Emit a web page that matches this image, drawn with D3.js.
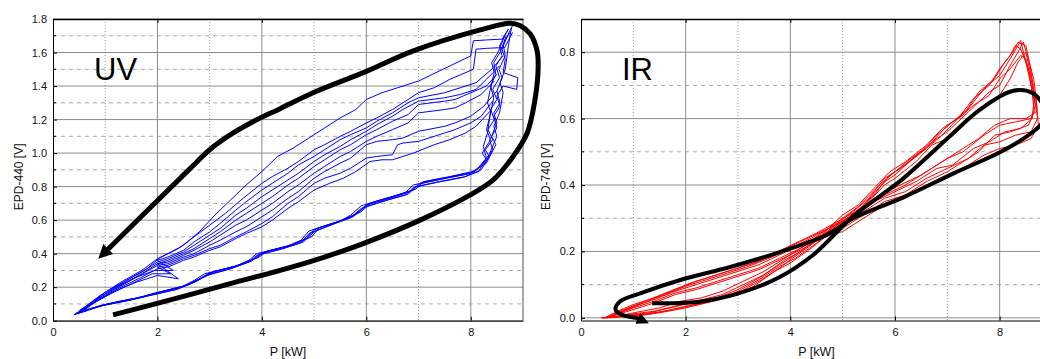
<!DOCTYPE html>
<html>
<head>
<meta charset="utf-8">
<script src="https://cdn.jsdelivr.net/npm/d3@7"></script>
<style>
  body { margin: 0; background: #fff; }
  svg { display: block; font-family: "Liberation Sans", Arial, sans-serif; }
</style>
</head>
<body>
<svg id="chart" width="1040" height="359"></svg>
<script>
// ---- UV panel data (EPD-440 vs P) ----
const uvXTicks = [0, 2, 4, 6, 8];
const uvYTicks = [0, 0.2, 0.4, 0.6, 0.8, 1.0, 1.2, 1.4, 1.6, 1.8];

const uvLow1 = [[0.42,0.04],[0.7,0.07],[1.0,0.095],[1.5,0.125],[2.0,0.16],[2.4,0.19],[2.75,0.235],[2.95,0.275],[3.4,0.31],[3.8,0.355],[3.95,0.395],[4.4,0.43],[4.8,0.47],[4.95,0.525],[5.4,0.58],[5.75,0.62],[5.95,0.675],[6.4,0.72],[6.8,0.755],[6.95,0.8],[7.4,0.83],[7.9,0.86],[8.2,0.9],[8.35,0.98],[8.28,1.02],[8.42,1.08],[8.33,1.14],[8.45,1.2],[8.38,1.26],[8.5,1.32],[8.42,1.38],[8.55,1.45],[8.48,1.52],[8.6,1.58],[8.55,1.64],[8.72,1.74]];
const uvLow2 = [[0.5,0.05],[0.8,0.08],[1.1,0.1],[1.6,0.135],[2.05,0.17],[2.5,0.205],[2.8,0.25],[3.0,0.285],[3.45,0.32],[3.85,0.37],[4.0,0.405],[4.45,0.44],[4.85,0.49],[5.0,0.545],[5.45,0.59],[5.8,0.635],[6.0,0.69],[6.45,0.73],[6.85,0.77],[7.0,0.815],[7.45,0.845],[7.95,0.875],[8.25,0.93],[8.42,1.02],[8.36,1.08],[8.5,1.15],[8.44,1.22],[8.56,1.28],[8.5,1.34],[8.62,1.4],[8.88,1.38],[8.9,1.45],[8.62,1.48],[8.66,1.56],[8.6,1.62],[8.7,1.7],[8.8,1.76]];
const uvLow3 = [[0.45,0.045],[0.75,0.075],[1.05,0.1],[1.55,0.13],[1.95,0.165],[2.45,0.2],[2.7,0.24],[2.9,0.28],[3.5,0.325],[3.75,0.36],[3.9,0.4],[4.5,0.445],[4.75,0.48],[4.9,0.535],[5.5,0.595],[5.7,0.63],[5.9,0.685],[6.5,0.74],[6.75,0.765],[6.9,0.81],[7.5,0.85],[8.0,0.88],[8.3,0.94],[8.48,1.05],[8.4,1.1],[8.5,1.18],[8.44,1.24],[8.56,1.3],[8.5,1.37],[8.6,1.45],[8.54,1.5],[8.66,1.58],[8.62,1.65],[8.75,1.72]];
const uvLow4 = [[0.55,0.05],[0.85,0.085],[1.2,0.11],[1.7,0.14],[2.1,0.175],[2.55,0.21],[2.85,0.255],[3.05,0.29],[3.55,0.33],[3.9,0.375],[4.05,0.41],[4.55,0.45],[4.9,0.495],[5.05,0.55],[5.55,0.6],[5.85,0.645],[6.05,0.7],[6.55,0.745],[6.9,0.78],[7.05,0.825],[7.55,0.855],[8.05,0.885],[8.3,0.96],[8.22,1.0],[8.38,1.08],[8.3,1.14],[8.35,1.2],[8.44,1.33],[8.38,1.4],[8.48,1.47],[8.44,1.54],[8.56,1.6],[8.68,1.7]];
const uvLow5 = [[0.4,0.035],[0.7,0.065],[0.95,0.09],[1.45,0.12],[1.9,0.155],[2.35,0.185],[2.7,0.23],[2.9,0.265],[3.35,0.305],[3.75,0.35],[3.9,0.39],[4.35,0.425],[4.75,0.465],[4.9,0.52],[5.35,0.575],[5.7,0.615],[5.9,0.67],[6.35,0.715],[6.75,0.75],[6.9,0.795],[7.35,0.825],[7.85,0.855],[8.15,0.89],[8.3,0.97],[8.24,1.04],[8.32,1.12],[8.38,1.25],[8.32,1.3],[8.36,1.36],[8.45,1.48],[8.4,1.54],[8.52,1.6],[8.65,1.7]];
const uvLow6 = [[0.6,0.055],[0.9,0.09],[1.25,0.115],[1.75,0.145],[2.15,0.18],[2.6,0.215],[2.9,0.26],[3.1,0.295],[3.6,0.335],[3.95,0.38],[4.1,0.415],[4.6,0.455],[4.95,0.5],[5.1,0.555],[5.6,0.605],[5.9,0.65],[6.1,0.705],[6.6,0.75],[6.95,0.785],[7.1,0.83],[7.6,0.86],[8.1,0.895],[8.35,0.99],[8.5,1.1],[8.44,1.16],[8.55,1.24],[8.62,1.36],[8.56,1.42],[8.66,1.5],[8.72,1.64],[8.78,1.75]];

const uvUp1 = [[8.72,1.74],[8.6,1.68],[8.3,1.675],[8.05,1.67],[8.0,1.58],[7.6,1.52],[7.2,1.46],[7.0,1.43],[6.6,1.39],[6.3,1.36],[6.0,1.32],[5.8,1.26],[5.5,1.21],[5.2,1.15],[4.9,1.09],[4.6,1.03],[4.3,0.98],[4.0,0.89],[3.7,0.81],[3.4,0.72],[3.1,0.63],[2.8,0.53],[2.5,0.45],[2.2,0.4],[2.02,0.37],[1.8,0.31],[1.4,0.24],[1.0,0.17],[0.7,0.1],[0.5,0.05]];
const uvUp2 = [[8.8,1.72],[8.65,1.63],[8.3,1.625],[8.1,1.62],[8.05,1.5],[7.6,1.44],[7.3,1.39],[7.0,1.36],[6.7,1.3],[6.5,1.26],[6.2,1.21],[6.0,1.18],[5.7,1.13],[5.5,1.1],[5.2,1.05],[5.0,1.02],[4.7,0.95],[4.5,0.91],[4.2,0.86],[4.0,0.82],[3.6,0.72],[3.3,0.64],[3.0,0.57],[2.7,0.5],[2.4,0.43],[2.0,0.37],[1.7,0.3],[1.3,0.23],[0.9,0.15],[0.6,0.08],[0.45,0.04]];
const uvUp3 = [[8.62,1.58],[8.4,1.5],[8.1,1.42],[7.8,1.39],[7.5,1.36],[7.0,1.33],[6.8,1.3],[6.5,1.24],[6.2,1.19],[6.0,1.15],[5.7,1.11],[5.5,1.08],[5.2,1.02],[5.0,0.98],[4.7,0.93],[4.5,0.88],[4.2,0.82],[4.0,0.78],[3.7,0.71],[3.5,0.66],[3.2,0.58],[3.0,0.53],[2.7,0.47],[2.5,0.42],[2.2,0.38],[2.0,0.36],[2.3,0.3],[1.95,0.3],[1.6,0.26],[1.2,0.2],[0.8,0.12],[0.5,0.06]];
const uvUp4 = [[8.55,1.52],[8.3,1.44],[8.1,1.38],[7.8,1.35],[7.5,1.33],[7.0,1.31],[6.7,1.26],[6.5,1.22],[6.2,1.17],[6.0,1.13],[5.7,1.08],[5.5,1.04],[5.2,0.99],[5.0,0.95],[4.7,0.88],[4.5,0.84],[4.2,0.78],[4.0,0.74],[3.7,0.67],[3.5,0.63],[3.2,0.55],[3.0,0.51],[2.7,0.45],[2.5,0.41],[2.2,0.37],[2.0,0.35],[1.7,0.29],[1.3,0.22],[0.9,0.14],[0.6,0.07],[0.42,0.04]];
const uvUp5 = [[8.5,1.47],[8.3,1.4],[8.0,1.36],[7.7,1.32],[7.5,1.31],[7.0,1.29],[6.8,1.23],[6.5,1.19],[6.2,1.14],[6.0,1.11],[5.7,1.05],[5.5,1.02],[5.2,0.96],[5.0,0.92],[4.7,0.85],[4.5,0.81],[4.2,0.74],[4.0,0.7],[3.7,0.64],[3.5,0.6],[3.2,0.53],[3.0,0.49],[2.7,0.43],[2.5,0.4],[2.2,0.36],[2.0,0.34],[2.4,0.25],[2.0,0.27],[1.6,0.23],[1.2,0.18],[0.8,0.11],[0.55,0.05]];
const uvUp6 = [[8.45,1.43],[8.2,1.35],[7.9,1.3],[7.7,1.27],[7.5,1.26],[7.0,1.24],[6.8,1.18],[6.5,1.14],[6.2,1.1],[6.0,1.07],[5.7,1.01],[5.5,0.98],[5.2,0.92],[5.0,0.88],[4.7,0.81],[4.5,0.77],[4.2,0.7],[4.0,0.66],[3.7,0.6],[3.5,0.57],[3.2,0.51],[3.0,0.47],[2.7,0.42],[2.5,0.39],[2.2,0.35],[2.0,0.34],[1.7,0.28],[1.3,0.21],[1.0,0.16],[0.7,0.09],[0.48,0.04]];
const uvUp7 = [[8.5,1.37],[8.25,1.28],[8.0,1.22],[7.7,1.18],[7.5,1.16],[7.0,1.13],[6.7,1.09],[6.5,1.08],[6.2,1.07],[6.0,1.05],[5.7,0.97],[5.5,0.94],[5.2,0.89],[5.0,0.85],[4.7,0.77],[4.5,0.73],[4.2,0.66],[4.0,0.62],[3.7,0.56],[3.5,0.53],[3.2,0.48],[3.0,0.45],[2.7,0.4],[2.5,0.38],[2.2,0.34],[2.0,0.33],[1.6,0.26],[1.2,0.19],[0.85,0.12],[0.55,0.06]];
const uvUp8 = [[8.42,1.31],[8.2,1.22],[8.0,1.18],[7.7,1.14],[7.5,1.12],[7.0,1.07],[6.7,1.06],[6.6,1.05],[6.5,0.99],[6.2,0.98],[6.0,0.97],[5.7,0.91],[5.5,0.88],[5.2,0.85],[5.0,0.82],[4.7,0.74],[4.5,0.7],[4.2,0.62],[4.0,0.58],[3.7,0.53],[3.5,0.5],[3.2,0.45],[3.0,0.43],[2.7,0.39],[2.5,0.37],[2.2,0.33],[2.0,0.32],[2.25,0.28],[1.9,0.28],[1.5,0.22],[1.1,0.16],[0.75,0.1],[0.45,0.045]];
const uvUp9 = [[8.4,1.26],[8.1,1.16],[7.9,1.12],[7.6,1.08],[7.3,1.05],[6.9,1.0],[6.5,0.96],[6.3,0.96],[6.07,0.95],[5.8,0.89],[5.56,0.85],[5.3,0.82],[5.0,0.78],[4.7,0.71],[4.5,0.67],[4.2,0.6],[4.0,0.56],[3.7,0.52],[3.5,0.49],[3.2,0.44],[3.0,0.42],[2.7,0.38],[2.5,0.36],[2.2,0.32],[2.0,0.31],[1.7,0.26],[1.3,0.2],[0.9,0.13],[0.6,0.07],[0.4,0.035]];

// black hand-drawn loop with arrow (UV)
const uvGuide = [[1.15,0.035],[2.5,0.145],[3.5,0.23],[4.35,0.3],[5.2,0.38],[5.94,0.46],[7.03,0.6],[7.93,0.74],[8.43,0.84],[8.81,0.98],[9.08,1.12],[9.23,1.32],[9.29,1.51],[9.27,1.61],[9.14,1.71],[8.95,1.76],[8.75,1.775],[8.18,1.735],[6.9,1.61],[5.94,1.48],[4.98,1.36],[4.35,1.265],[3.97,1.21],[3.45,1.12],[3.0,1.02],[2.6,0.9],[1.0,0.41]];

// ---- IR panel data (EPD-740 vs P) ----
const irXTicks = [0, 2, 4, 6, 8];
const irYTicks = [0, 0.2, 0.4, 0.6, 0.8];

const irUp1 = [[0.4,0.0],[0.8,0.005],[1.2,0.01],[1.6,0.02],[2.0,0.035],[2.5,0.05],[3.0,0.075],[3.4,0.11],[3.8,0.15],[4.0,0.175],[4.4,0.22],[4.8,0.27],[5.0,0.29],[5.4,0.34],[5.8,0.41],[6.0,0.43],[6.4,0.49],[6.8,0.54],[7.0,0.56],[7.4,0.62],[7.8,0.68],[8.0,0.7],[8.2,0.76],[8.35,0.8],[8.45,0.83]];
const irUp2 = [[0.45,0.0],[0.9,0.008],[1.3,0.015],[1.7,0.03],[2.1,0.045],[2.6,0.06],[3.0,0.085],[3.4,0.12],[3.8,0.16],[4.1,0.19],[4.5,0.235],[4.9,0.285],[5.2,0.32],[5.5,0.36],[5.8,0.42],[6.1,0.45],[6.5,0.5],[6.8,0.55],[7.1,0.59],[7.4,0.63],[7.7,0.69],[8.0,0.73],[8.2,0.78],[8.35,0.82],[8.4,0.835]];
const irUp3 = [[0.5,0.0],[1.0,0.012],[1.4,0.02],[1.8,0.035],[2.2,0.05],[2.7,0.07],[3.1,0.1],[3.5,0.13],[3.9,0.175],[4.2,0.2],[4.6,0.25],[5.0,0.31],[5.3,0.34],[5.6,0.39],[5.9,0.44],[6.2,0.47],[6.6,0.52],[6.9,0.57],[7.2,0.6],[7.5,0.66],[7.8,0.7],[8.0,0.75],[8.2,0.79],[8.3,0.82],[8.4,0.81]];
const irUp4 = [[0.38,0.0],[0.8,0.003],[1.2,0.008],[1.6,0.018],[2.0,0.03],[2.4,0.045],[2.9,0.065],[3.3,0.095],[3.7,0.14],[4.0,0.165],[4.4,0.21],[4.8,0.26],[5.1,0.3],[5.5,0.35],[5.8,0.4],[6.0,0.42],[6.4,0.47],[6.7,0.52],[7.0,0.54],[7.3,0.59],[7.7,0.64],[8.0,0.67],[8.2,0.72],[8.35,0.77],[8.5,0.8]];
const irUp5 = [[0.55,0.0],[1.0,0.015],[1.5,0.03],[1.9,0.05],[2.3,0.06],[2.7,0.08],[3.1,0.11],[3.5,0.14],[3.9,0.18],[4.2,0.21],[4.6,0.255],[5.0,0.3],[5.3,0.335],[5.7,0.4],[6.0,0.44],[6.3,0.48],[6.6,0.51],[7.0,0.58],[7.3,0.61],[7.6,0.68],[7.9,0.72],[8.1,0.77],[8.25,0.8],[8.35,0.83],[8.5,0.82]];
const irUp6 = [[0.42,0.0],[0.85,0.006],[1.3,0.012],[1.75,0.025],[2.2,0.04],[2.6,0.055],[3.0,0.08],[3.4,0.115],[3.8,0.155],[4.1,0.18],[4.5,0.225],[4.9,0.28],[5.2,0.31],[5.6,0.37],[5.9,0.43],[6.2,0.46],[6.6,0.51],[6.9,0.55],[7.2,0.6],[7.5,0.64],[7.8,0.67],[8.0,0.72],[8.2,0.75],[8.4,0.79],[8.5,0.78]];

const irDn1 = [[8.45,0.83],[8.55,0.78],[8.65,0.72],[8.7,0.66],[8.72,0.6],[8.6,0.56],[8.3,0.55],[8.0,0.53],[7.7,0.52],[7.4,0.48],[7.0,0.45],[6.6,0.42],[6.2,0.38],[5.8,0.36],[5.4,0.32],[5.0,0.28],[4.6,0.25],[4.2,0.22],[3.8,0.19],[3.4,0.16],[3.0,0.14],[2.6,0.12],[2.2,0.1],[1.8,0.08],[1.4,0.055],[1.0,0.035],[0.7,0.015],[0.5,0.0]];
const irDn2 = [[8.4,0.835],[8.5,0.77],[8.6,0.7],[8.68,0.64],[8.6,0.6],[8.3,0.59],[8.0,0.58],[7.7,0.55],[7.3,0.5],[7.0,0.48],[6.6,0.44],[6.2,0.4],[5.8,0.37],[5.4,0.33],[5.0,0.29],[4.6,0.26],[4.2,0.23],[3.8,0.2],[3.4,0.17],[3.0,0.15],[2.6,0.13],[2.2,0.11],[1.8,0.085],[1.4,0.06],[1.0,0.04],[0.7,0.02],[0.45,0.0]];
const irDn3 = [[8.4,0.81],[8.55,0.75],[8.62,0.68],[8.66,0.62],[8.55,0.58],[8.2,0.56],[7.9,0.55],[7.6,0.5],[7.3,0.47],[7.0,0.44],[6.6,0.41],[6.2,0.37],[5.8,0.35],[5.4,0.31],[5.0,0.27],[4.6,0.245],[4.2,0.21],[3.8,0.18],[3.4,0.15],[3.0,0.13],[2.6,0.11],[2.2,0.09],[1.8,0.075],[1.4,0.05],[1.0,0.03],[0.7,0.012],[0.5,0.0]];
const irDn4 = [[8.5,0.8],[8.6,0.73],[8.7,0.65],[8.74,0.58],[8.6,0.54],[8.3,0.52],[8.0,0.51],[7.7,0.49],[7.4,0.46],[7.0,0.43],[6.6,0.4],[6.2,0.36],[5.8,0.34],[5.4,0.3],[5.0,0.26],[4.6,0.24],[4.2,0.205],[3.8,0.175],[3.4,0.145],[3.0,0.125],[2.6,0.105],[2.2,0.085],[1.8,0.07],[1.4,0.045],[1.0,0.025],[0.6,0.005],[0.4,0.0]];
const irDn5 = [[8.5,0.82],[8.58,0.76],[8.64,0.7],[8.7,0.62],[8.5,0.6],[8.2,0.6],[7.9,0.58],[7.6,0.54],[7.2,0.5],[6.9,0.47],[6.5,0.43],[6.1,0.4],[5.7,0.37],[5.3,0.325],[4.9,0.29],[4.5,0.255],[4.1,0.225],[3.7,0.195],[3.3,0.165],[2.9,0.145],[2.5,0.125],[2.1,0.105],[1.7,0.08],[1.3,0.055],[0.9,0.03],[0.6,0.01],[0.45,0.0]];
const irDn6 = [[8.5,0.78],[8.6,0.72],[8.66,0.66],[8.62,0.6],[8.4,0.57],[8.1,0.56],[7.8,0.53],[7.5,0.51],[7.1,0.46],[6.8,0.45],[6.4,0.41],[6.0,0.38],[5.6,0.35],[5.2,0.31],[4.8,0.275],[4.4,0.24],[4.0,0.21],[3.6,0.18],[3.2,0.155],[2.8,0.135],[2.4,0.115],[2.0,0.095],[1.6,0.07],[1.2,0.045],[0.8,0.02],[0.5,0.0]];

// black hand-drawn loop with arrow (IR)
const irGuide = [[1.36,0.044],[2.22,0.048],[2.98,0.072],[3.8,0.123],[4.44,0.19],[5.2,0.305],[6.16,0.42],[7.0,0.54],[7.63,0.628],[8.26,0.684],[8.65,0.675],[8.85,0.63],[8.82,0.59],[8.65,0.562],[8.07,0.504],[7.12,0.435],[6.16,0.363],[5.2,0.3],[4.7,0.25],[3.8,0.198],[2.85,0.153],[1.9,0.114],[1.13,0.074],[0.75,0.05],[0.66,0.025],[0.8,0.008],[1.05,0.0],[1.15,-0.006]];

const svg = d3.select('#chart');
const defs = svg.append('defs');

function drawPanel(p) {
  const x = d3.scaleLinear().domain(p.xDomain).range([p.left, p.right]);
  const y = d3.scaleLinear().domain(p.yDomain).range([p.bottom, p.top]);
  const g = svg.append('g');

  defs.append('clipPath').attr('id', p.id + '-clip')
    .append('rect')
    .attr('x', p.left).attr('y', p.top)
    .attr('width', p.right - p.left).attr('height', p.bottom - p.top);

  defs.append('marker').attr('id', p.id + '-arrow')
    .attr('markerUnits', 'userSpaceOnUse')
    .attr('viewBox', '0 0 10 10')
    .attr('refX', 3).attr('refY', 5)
    .attr('markerWidth', p.arrow[0]).attr('markerHeight', p.arrow[1])
    .attr('orient', 'auto')
    .append('path').attr('d', 'M0,0L10,5L0,10Z').attr('fill', '#000');

  const xMinor = p.xTicks.slice(0, -1).map((d, i) => (d + p.xTicks[i + 1]) / 2).concat([9]);
  const yMinor = p.yTicks.slice(0, -1).map((d, i) => (d + p.yTicks[i + 1]) / 2);

  // grid
  g.append('g').selectAll('line').data(xMinor.filter(d => x(d) < p.right)).join('line')
    .attr('x1', d => x(d)).attr('x2', d => x(d))
    .attr('y1', p.top).attr('y2', p.bottom)
    .attr('stroke', '#9c9c9c').attr('stroke-dasharray', '1,2');
  g.append('g').selectAll('line').data(yMinor).join('line')
    .attr('x1', p.left).attr('x2', p.right)
    .attr('y1', d => y(d)).attr('y2', d => y(d))
    .attr('stroke', '#a8a8a8').attr('stroke-dasharray', '4,4');
  g.append('g').selectAll('line').data(p.xTicks.slice(1)).join('line')
    .attr('x1', d => x(d)).attr('x2', d => x(d))
    .attr('y1', p.top).attr('y2', p.bottom)
    .attr('stroke', '#8c8c8c');
  g.append('g').selectAll('line').data(p.yTicks).join('line')
    .attr('x1', p.left).attr('x2', p.right)
    .attr('y1', d => y(d)).attr('y2', d => y(d))
    .attr('stroke', '#8c8c8c');

  // measured cycles
  const line = d3.line().x(d => x(d[0])).y(d => y(d[1]));
  g.append('g').attr('clip-path', `url(#${p.id}-clip)`)
    .selectAll('path').data(p.traces).join('path')
    .attr('d', line)
    .attr('fill', 'none')
    .attr('stroke', p.color)
    .attr('stroke-width', 1)
    .attr('stroke-linejoin', 'round');

  // frame
  g.append('line').attr('x1', p.right).attr('x2', p.right)
    .attr('y1', p.top).attr('y2', p.bottom).attr('stroke', '#555');
  g.append('g').attr('transform', `translate(0,${p.top})`)
    .call(d3.axisTop(x).tickValues(p.xTicks).tickSize(-4).tickSizeOuter(0).tickFormat(''))
    .call(a => a.select('.domain').attr('stroke-width', 1.6));

  const yAxis = g.append('g').attr('transform', `translate(${p.left},0)`)
    .call(d3.axisLeft(y).tickValues(p.yTicks).tickSize(-4).tickSizeOuter(0)
      .tickPadding(6).tickFormat(d3.format('.1f')));
  yAxis.selectAll('text').attr('font-size', p.tickFont).attr('font-family', null).attr('fill', '#111');
  yAxis.selectAll('.minor').data(yMinor).join('line').attr('class', 'minor')
    .attr('x1', 0).attr('x2', 3).attr('y1', d => y(d)).attr('y2', d => y(d))
    .attr('stroke', '#000');

  const xAxis = g.append('g').attr('transform', `translate(0,${p.bottom})`)
    .call(d3.axisBottom(x).tickValues(p.xTicks).tickSize(-4).tickSizeOuter(0)
      .tickPadding(8).tickFormat(d3.format('d')));
  xAxis.selectAll('text').attr('font-size', p.tickFont).attr('font-family', null).attr('fill', '#111');

  // axis titles
  g.append('text')
    .attr('transform', `translate(${p.yTitleX},${(p.top + p.bottom) / 2 + 7}) rotate(-90)`)
    .attr('text-anchor', 'middle').attr('font-size', 12).attr('fill', '#111')
    .text(p.yTitle);
  g.append('text')
    .attr('x', (p.left + p.right) / 2).attr('y', 356)
    .attr('text-anchor', 'middle').attr('font-size', 12.5).attr('fill', '#111')
    .text('P [kW]');

  // panel tag
  g.append('text').attr('x', p.tagX).attr('y', 80)
    .attr('font-size', 31).attr('fill', '#000').text(p.tag);

  // hand-drawn loop direction
  const guide = d3.line().curve(d3.curveCatmullRom.alpha(0.5))
    .x(d => x(d[0])).y(d => y(d[1]));
  g.append('path').attr('d', guide(p.guide))
    .attr('fill', 'none').attr('stroke', '#000')
    .attr('stroke-width', p.guideWidth)
    .attr('marker-end', `url(#${p.id}-arrow)`);
}

drawPanel({
  id: 'uv', left: 53, right: 523, top: 19, bottom: 320.7,
  xDomain: [0, 9], yDomain: [0, 1.8],
  xTicks: uvXTicks, yTicks: uvYTicks,
  traces: [uvLow1, uvLow2, uvLow3, uvLow4, uvLow5, uvLow6,
           uvUp1, uvUp2, uvUp3, uvUp4, uvUp5, uvUp6, uvUp7, uvUp8, uvUp9],
  color: '#0000ff', guide: uvGuide, guideWidth: 5, arrow: [17, 14],
  yTitle: 'EPD-440 [V]', yTitleX: 23, tag: 'UV', tagX: 94, tickFont: 11
});

drawPanel({
  id: 'ir', left: 581, right: 1052, top: 19, bottom: 320.5,
  xDomain: [0, 9], yDomain: [-0.008, 0.9],
  xTicks: irXTicks, yTicks: irYTicks,
  traces: [irUp1, irUp2, irUp3, irUp4, irUp5, irUp6,
           irDn1, irDn2, irDn3, irDn4, irDn5, irDn6],
  color: '#ff0000', guide: irGuide, guideWidth: 4, arrow: [14, 12],
  yTitle: 'EPD-740 [V]', yTitleX: 550, tag: 'IR', tagX: 622, tickFont: 11
});
</script>
</body>
</html>
